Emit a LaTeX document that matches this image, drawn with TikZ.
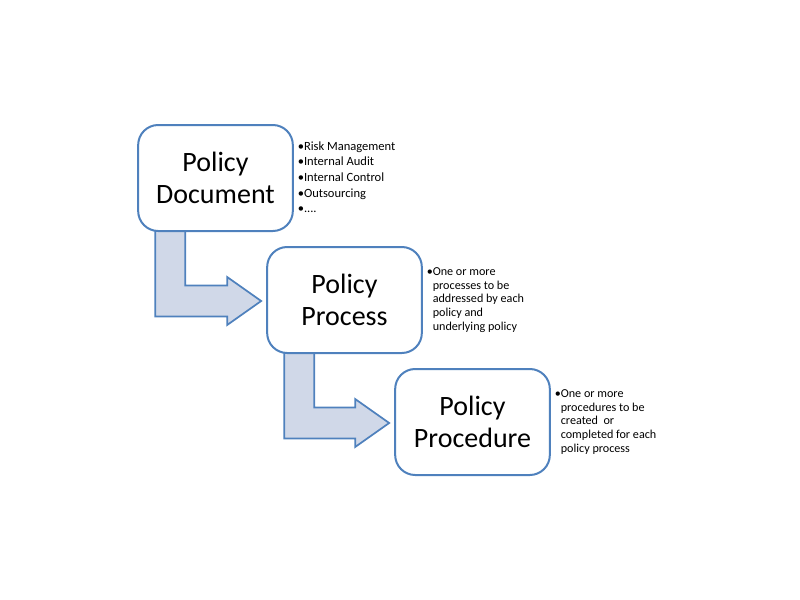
\documentclass[tikz,border=0pt]{standalone}
\usepackage{fontspec}
\setmainfont{Carlito}
\usetikzlibrary{calc}
\definecolor{boxblue}{RGB}{79,129,189}
\definecolor{arrowfill}{RGB}{208,216,232}
\tikzset{
  stagebox/.style={draw=boxblue, line width=1.5pt, fill=white, rounded corners=15pt,
    minimum width=116pt, minimum height=79.5pt, align=center, inner sep=0pt,
    font=\fontsize{21}{23.8}\selectfont},
  bentshape/.style={draw=boxblue, line width=1.3pt, fill=arrowfill, line join=miter},
  sidenote/.style={anchor=base west, inner sep=0pt, align=left}
}
\newcommand\bentarrow[2]{%
  \coordinate (T) at ($(#2.west)+(-5,1)$);
  \coordinate (S) at ($(#1.west)+(18,0)$);
  \coordinate (Sr) at ($(#1.west)+(48,0)$);
  \coordinate (Hb) at ($(T)+(-34,15.5)$);
  \coordinate (Hbb) at ($(T)+(-34,24)$);
  \coordinate (Ht) at ($(T)+(-34,-15.5)$);
  \coordinate (Htt) at ($(T)+(-34,-24)$);
  \draw[bentshape] (S) -- (S |- Hb) -- (Hb) -- (Hbb) -- (T) -- (Htt) -- (Ht) -- (Sr |- Ht) -- (Sr) -- cycle;
}
\begin{document}
\begin{tikzpicture}[x=0.75pt,y=-0.75pt]
\useasboundingbox (0,0) rectangle (800,600);
\coordinate (d0) at (215.5,178);
\coordinate (p0) at (344.5,300);
\coordinate (r0) at (472.5,422);
% arrows behind boxes
\path (d0) node[stagebox, draw=none, fill=none, text opacity=0] (dghost) {Policy\\Document};
\path (p0) node[stagebox, draw=none, fill=none, text opacity=0] (pghost) {Policy\\Process};
\path (r0) node[stagebox, draw=none, fill=none, text opacity=0] (rghost) {Policy\\Procedure};
\bentarrow{dghost}{pghost}
\bentarrow{pghost}{rghost}
\node[stagebox] (doc) at (d0) {Policy\\Document};
\node[stagebox] (proc) at (p0) {Policy\\Process};
\node[stagebox] (pcd) at (r0) {Policy\\Procedure};
% side notes
\node[sidenote, font=\fontsize{9.4}{11.8}\selectfont] (n1) at (297.5,150)
  {\begin{tabular}[t]{@{}l@{}}•Risk Management\\•Internal Audit\\•Internal Control\\•Outsourcing\\•....\end{tabular}};
\node[sidenote, font=\fontsize{9.1}{10.3}\selectfont] (n2) at (426.5,275.5)
  {\begin{tabular}[t]{@{}l@{}l@{}}•&One or more\\&processes to be\\&addressed by each\\&policy and\\&underlying policy\end{tabular}};
\node[sidenote, font=\fontsize{9.1}{10.3}\selectfont] (n3) at (554.5,397.5)
  {\begin{tabular}[t]{@{}l@{}l@{}}•&One or more\\&procedures to be\\&created\ \ or\\&completed for each\\&policy process\end{tabular}};
\end{tikzpicture}
\end{document}
